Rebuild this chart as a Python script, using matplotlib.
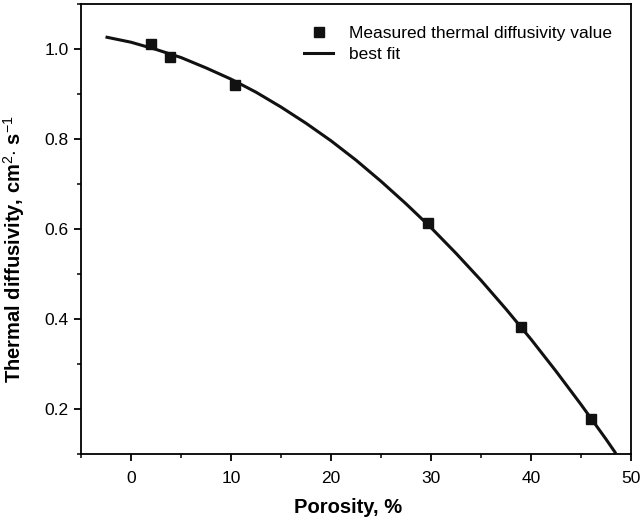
import matplotlib
matplotlib.use('Agg')
import matplotlib.pyplot as plt
from matplotlib.ticker import MultipleLocator

plt.rcParams['font.family'] = ['Liberation Sans', 'DejaVu Sans']
plt.rcParams['mathtext.fontset'] = 'custom'
plt.rcParams['mathtext.rm'] = 'Liberation Sans'
plt.rcParams['mathtext.bf'] = 'Liberation Sans:bold'

# measured points
porosity = [2.0, 3.9, 10.4, 29.7, 39.0, 46.0]
diffusivity = [1.011, 0.983, 0.921, 0.613, 0.383, 0.178]

# best fit curve
fit_x = [-2.4, 0, 2.5, 5, 7.5, 10, 12.5, 15, 17.5, 20, 22.5, 25, 27.5, 30,
         32.5, 35, 37.5, 40, 42.5, 45, 47.5, 48.4]
fit_y = [1.026, 1.015, 0.999, 0.981, 0.958, 0.933, 0.904, 0.871, 0.835, 0.796,
         0.753, 0.706, 0.656, 0.603, 0.546, 0.486, 0.422, 0.355, 0.284, 0.210,
         0.133, 0.104]

fig = plt.figure(figsize=(6.41, 5.23), dpi=100)
ax = fig.add_axes([0.1264, 0.1319, 0.858, 0.8605])

ax.plot(porosity, diffusivity, 's', color='#111111', ms=7, label='Measured thermal diffusivity value', zorder=3)
ax.plot(fit_x, fit_y, '-', color='#111111', lw=2.2, label='best fit')

ax.set_xlim(-5, 50)
ax.set_ylim(0.1, 1.1)
ax.xaxis.set_major_locator(MultipleLocator(10))
ax.xaxis.set_minor_locator(MultipleLocator(5))
ax.yaxis.set_minor_locator(MultipleLocator(0.1))
ax.set_yticks([0.2, 0.4, 0.6, 0.8, 1.0])
ax.set_yticklabels(['0.2', '0.4', '0.6', '0.8', '1.0'])

for s in ax.spines.values():
    s.set_linewidth(1.3)
ax.tick_params(which='major', direction='out', length=5, width=1.3, labelsize=12.5)
ax.tick_params(axis='x', which='major', pad=7)
ax.tick_params(axis='y', which='major', pad=4)
ax.tick_params(which='minor', direction='out', length=3, width=1.1)

ax.set_xlabel('Porosity, %', fontsize=14.5, fontweight='bold')
ax.set_ylabel(r'Thermal diffusivity, cm$^2$$\cdot$ s$^{-1}$', fontsize=14.5, fontweight='bold')
ax.xaxis.set_label_coords(0.485, -0.098)
ax.yaxis.set_label_coords(-0.098, 0.456)

ax.legend(loc='upper left', bbox_to_anchor=(0.405, 0.952), frameon=False, fontsize=12.5,
          handlelength=1.7, handletextpad=0.9, labelspacing=0.35, borderpad=0, borderaxespad=0)

fig.savefig('out.png', dpi=100)
